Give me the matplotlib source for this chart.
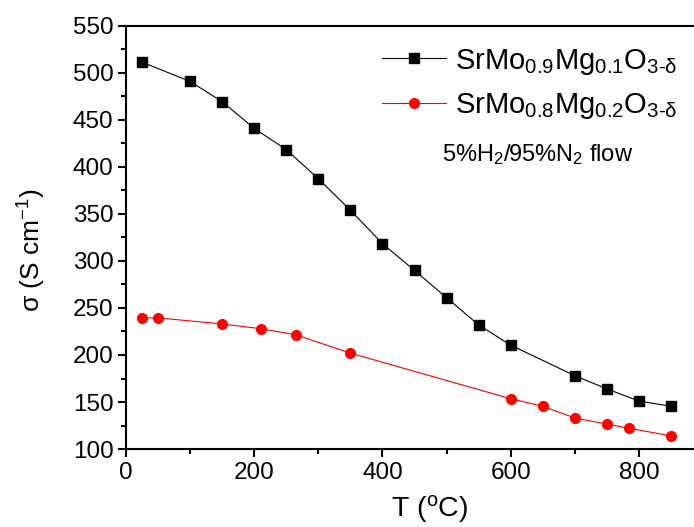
import matplotlib
matplotlib.use("Agg")
import matplotlib.pyplot as plt
from matplotlib.ticker import MultipleLocator

plt.rcParams['font.family'] = ['Liberation Sans', 'DejaVu Sans']
plt.rcParams['mathtext.fontset'] = 'custom'
plt.rcParams['mathtext.rm'] = 'Liberation Sans'
plt.rcParams['mathtext.it'] = 'Liberation Sans:italic'

# data
T_mg01 = [25, 100, 150, 200, 250, 300, 350, 400, 450, 500, 550, 600, 700, 750, 800, 850]
sigma_mg01 = [511.5, 491, 469.5, 441, 418.5, 387.5, 354, 318.5, 290, 261, 232, 210.5, 178, 164, 151, 145.5]

T_mg02 = [25, 50, 150, 210, 265, 350, 600, 650, 700, 750, 785, 850]
sigma_mg02 = [239.5, 239.5, 233, 228, 221.5, 202, 153.5, 145.5, 133, 126.5, 122, 114]

label_mg01 = r'SrMo$_{\mathregular{0.9}}$Mg$_{\mathregular{0.1}}$O$_{\mathregular{3\text{-}δ}}$'
label_mg02 = r'SrMo$_{\mathregular{0.8}}$Mg$_{\mathregular{0.2}}$O$_{\mathregular{3\text{-}δ}}$'

fig = plt.figure(figsize=(6.94, 5.27), dpi=100)
ax = fig.add_axes([0.1816, 0.148, 0.8184, 0.8027])

ax.plot(T_mg01, sigma_mg01, color='black', lw=0.8, marker='s', markersize=6.5,
        label=label_mg01)
ax.plot(T_mg02, sigma_mg02, color='red', lw=0.8, marker='o', markersize=7,
        label=label_mg02)

ax.set_xlim(0, 886)
ax.set_ylim(100, 550)
ax.xaxis.set_major_locator(MultipleLocator(200))
ax.xaxis.set_minor_locator(MultipleLocator(100))
ax.yaxis.set_major_locator(MultipleLocator(50))
ax.yaxis.set_minor_locator(MultipleLocator(25))
ax.tick_params(which='major', length=6, width=1.5, labelsize=17.5, direction='out', pad=3)
ax.tick_params(which='minor', length=3.5, width=1.5, direction='out')
ax.spines['right'].set_visible(False)
for s in ['left', 'bottom', 'top']:
    ax.spines[s].set_linewidth(1.5)

ax.set_xlabel(r'T ($^{\mathregular{o}}$C)', fontsize=20.5)
ax.xaxis.set_label_coords(0.535, -0.104)
ax.set_ylabel(r'σ (S cm$^{\mathregular{-1}}$)', fontsize=19)
ax.yaxis.set_label_coords(-0.137, 0.47)

ax.legend(loc='upper left', bbox_to_anchor=(0.44, 0.965), fontsize=21,
          frameon=False, handlelength=2.2, handletextpad=0.3, labelspacing=0.5,
          borderpad=0.2, borderaxespad=0.0)
ax.text(0.724, 0.697, r'5%H$_{\mathregular{2}}$/95%N$_{\mathregular{2}}$ flow',
        transform=ax.transAxes, ha='center', va='center', fontsize=17)

fig.savefig('out.png', dpi=100)
